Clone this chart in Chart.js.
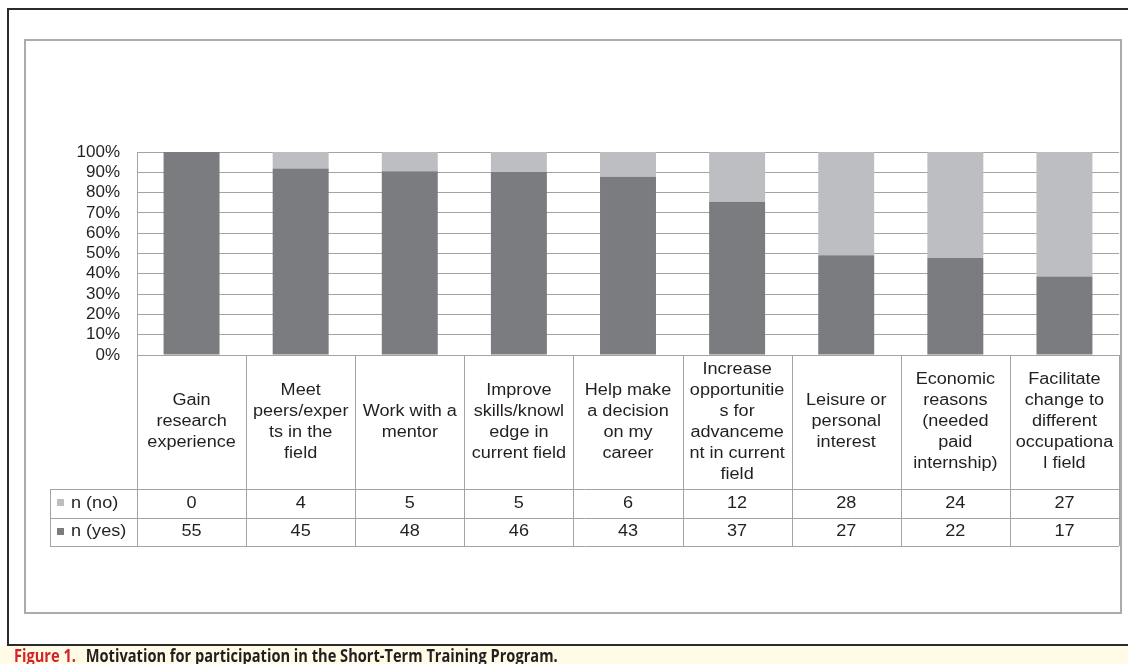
<!DOCTYPE html>
<html>
<head>
<meta charset="utf-8">
<title>Motivation for participation in the Short-Term Training Program</title>
<script src="https://cdn.jsdelivr.net/npm/chart.js@4.4.1/dist/chart.umd.min.js"></script>
<style>
  html, body { margin: 0; padding: 0; background: #fff; }
  #page { position: relative; width: 1128px; height: 664px; overflow: hidden; }
  #outer {
    position: absolute; left: 7px; top: 8px; width: 1200px; height: 634px;
    border: 2px solid #2b2b2b; border-right: none;
  }
  #inner {
    position: absolute; left: 24px; top: 39px; width: 1094px; height: 571px;
    border: 2px solid #ababab;
  }
  #chart { position: absolute; left: 0; top: 0; }
  #caption {
    position: absolute; left: 0; top: 646px; width: 1128px; height: 18px;
    background: #fffbe6;
    font-family: "Open Sans", sans-serif; font-weight: 700; font-size: 17px;
    color: #231f20; white-space: nowrap;
  }
  #caption span.txt {
    position: absolute; left: 14px; top: 1px; line-height: 18px;
    transform: scaleX(0.86); transform-origin: 0 50%;
  }
  #caption .fig { color: #d2232a; margin-right: 7px; }
</style>
</head>
<body>
<div id="page">
  <div id="outer"></div>
  <div id="inner"></div>
  <canvas id="chart" width="1128" height="646"></canvas>
  <div id="caption"><span class="txt"><span class="fig">Figure 1.</span> Motivation for participation in the Short-Term Training Program.</span></div>
</div>
<script>
  // Categories, wrapped the way the data table wraps them
  const CATEGORIES = [
    ['Gain', 'research', 'experience'],
    ['Meet', 'peers/exper', 'ts in the', 'field'],
    ['Work with a', 'mentor'],
    ['Improve', 'skills/knowl', 'edge in', 'current field'],
    ['Help make', 'a decision', 'on my', 'career'],
    ['Increase', 'opportunitie', 's for', 'advanceme', 'nt in current', 'field'],
    ['Leisure or', 'personal', 'interest'],
    ['Economic', 'reasons', '(needed', 'paid', 'internship)'],
    ['Facilitate', 'change to', 'different', 'occupationa', 'l field']
  ];

  const N_NO = [0, 4, 5, 5, 6, 12, 28, 24, 27];
  const N_YES = [55, 45, 48, 46, 43, 37, 27, 22, 17];

  const Y_TICKS = [0, 10, 20, 30, 40, 50, 60, 70, 80, 90, 100];

  const COLOR_YES = '#7b7c80';
  const COLOR_NO = '#bdbec2';
  const GRID = '#a3a3a3';
  const INK = '#231f20';

  // 100% stacked: each count as a share of its column total
  const pct = (a, b) => a.map((v, i) => (v / (v + b[i])) * 100);

  const HEADER_H = 134;
  const ROW_H = 28.5;
  const LABEL_LEFT = 50;
  const STRETCH = 1.13; // the source text is a bit wider than Arial
  const FONT = '16px "Liberation Sans", Arial, sans-serif';

  function stretchedText(ctx, str, x, y, align) {
    ctx.save();
    ctx.translate(x, y);
    ctx.scale(STRETCH, 1);
    ctx.textAlign = align;
    ctx.textBaseline = 'middle';
    ctx.fillText(str, 0, 0);
    ctx.restore();
  }

  const crisp = (v) => Math.round(v) + 0.5;

  // Excel-style data table under the plot, laid out on the x scale
  const dataTable = {
    id: 'dataTable',
    afterDraw(chart) {
      const { ctx, chartArea } = chart;
      const xs = chart.scales.x;
      const n = CATEGORIES.length;
      const colW = (chartArea.right - chartArea.left) / n;
      const top = chartArea.bottom;
      const headBottom = top + HEADER_H;
      const rows = [
        { label: 'n (no)', color: COLOR_NO, values: N_NO },
        { label: 'n (yes)', color: COLOR_YES, values: N_YES }
      ];
      const bottom = headBottom + ROW_H * rows.length;

      ctx.save();
      ctx.strokeStyle = GRID;
      ctx.lineWidth = 1;
      ctx.beginPath();
      // horizontal rules
      ctx.moveTo(chartArea.left, crisp(top));
      ctx.lineTo(chartArea.right, crisp(top));
      for (let r = 0; r <= rows.length; r++) {
        const y = crisp(headBottom + r * ROW_H);
        ctx.moveTo(LABEL_LEFT, y);
        ctx.lineTo(chartArea.right, y);
      }
      // vertical rules between categories
      for (let i = 0; i <= n; i++) {
        const x = crisp(xs.getPixelForValue(i) - colW / 2);
        ctx.moveTo(x, top);
        ctx.lineTo(x, bottom);
      }
      ctx.moveTo(crisp(LABEL_LEFT), headBottom);
      ctx.lineTo(crisp(LABEL_LEFT), bottom);
      ctx.stroke();

      ctx.fillStyle = INK;
      ctx.font = FONT;
      const lineH = 21;
      CATEGORIES.forEach((lines, i) => {
        const cx = xs.getPixelForValue(i);
        const cy = top + HEADER_H / 2;
        const y0 = cy - ((lines.length - 1) * lineH) / 2;
        lines.forEach((t, k) => stretchedText(ctx, t, cx, y0 + k * lineH, 'center'));
      });

      rows.forEach((row, r) => {
        const cy = headBottom + r * ROW_H + ROW_H / 2;
        ctx.fillStyle = row.color;
        ctx.fillRect(LABEL_LEFT + 7, Math.round(cy - 4), 7, 7);
        ctx.fillStyle = INK;
        stretchedText(ctx, row.label, LABEL_LEFT + 21, cy, 'left');
        row.values.forEach((v, i) => {
          stretchedText(ctx, String(v), xs.getPixelForValue(i), cy, 'center');
        });
      });
      ctx.restore();
    }
  };

  new Chart(document.getElementById('chart'), {
    type: 'bar',
    data: {
      labels: CATEGORIES.map((l) => l.join(' ')),
      datasets: [
        {
          label: 'n (yes)',
          data: pct(N_YES, N_NO),
          backgroundColor: COLOR_YES,
          barPercentage: 0.513,
          categoryPercentage: 1
        },
        {
          label: 'n (no)',
          data: pct(N_NO, N_YES),
          backgroundColor: COLOR_NO,
          barPercentage: 0.513,
          categoryPercentage: 1
        }
      ]
    },
    options: {
      responsive: false,
      animation: false,
      devicePixelRatio: 1,
      layout: { padding: { top: 152, right: 9, bottom: 291, left: 0 } },
      plugins: { legend: { display: false }, tooltip: { enabled: false } },
      scales: {
        x: { stacked: true, display: false },
        y: {
          stacked: true,
          min: 0,
          max: 100,
          afterFit: (axis) => { axis.width = 137; },
          afterBuildTicks: (axis) => { axis.ticks = Y_TICKS.map((v) => ({ value: v })); },
          ticks: {
            autoSkip: false,
            padding: 17,
            color: INK,
            font: { family: '"Liberation Sans", Arial, sans-serif', size: 17 },
            callback: (v) => v + '%'
          },
          grid: { color: GRID, lineWidth: 1, drawTicks: false },
          border: { display: true, color: GRID }
        }
      }
    },
    plugins: [dataTable]
  });
</script>
</body>
</html>
